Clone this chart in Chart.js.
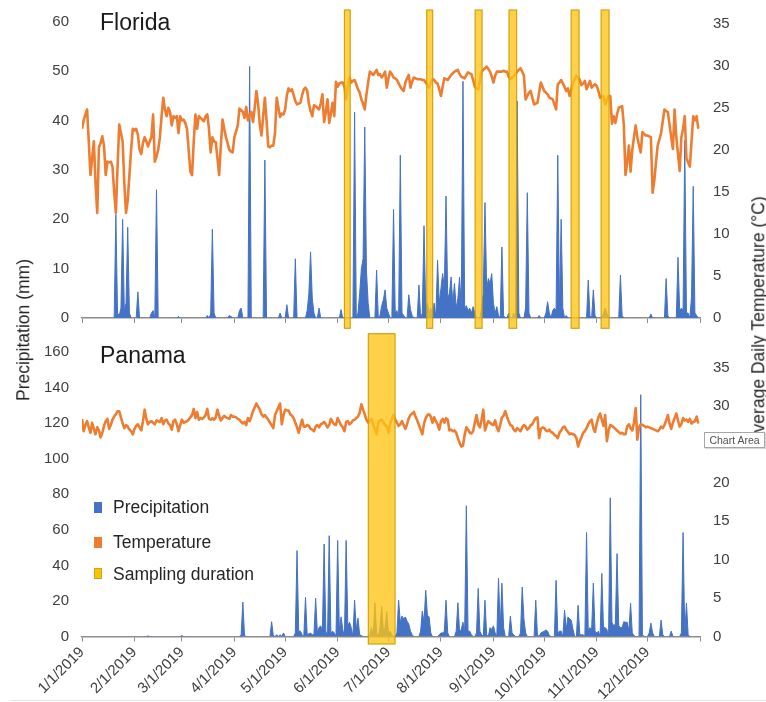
<!DOCTYPE html>
<html><head><meta charset="utf-8">
<script src="https://cdn.jsdelivr.net/npm/chart.js@4"></script>
<style>
html,body{margin:0;padding:0;background:#fff;width:766px;height:702px;overflow:hidden;font-family:"Liberation Sans",Arial,sans-serif;}
#wrap{position:relative;width:766px;height:702px;}
canvas{position:absolute;left:0;}
#c1{top:0;width:766px;height:340px;}
#c2{top:330px;width:766px;height:372px;}
.title{position:absolute;font-size:23px;line-height:1;color:#1a1a1a;white-space:nowrap;}
.leg{position:absolute;font-size:17.5px;line-height:1;color:#262626;white-space:nowrap;left:113px;}
.sw{position:absolute;left:94px;width:8px;height:11px;}
.axt{position:absolute;font-size:17.5px;line-height:1;color:#262626;white-space:nowrap;transform:translate(-50%,-50%) rotate(-90deg);}
#ca{position:absolute;left:704px;top:432px;width:59px;height:14px;border:1px solid #a6a6a6;background:#fff;font-size:10.5px;line-height:14px;color:#505050;text-align:center;box-shadow:1px 1px 1px rgba(0,0,0,0.15);}
#bl{position:absolute;left:10px;top:700px;width:756px;height:1px;background:#e4e4e4;}
</style></head>
<body><div id="wrap">
<canvas id="c1" width="766" height="340"></canvas>
<canvas id="c2" width="766" height="372"></canvas>
<div class="title" style="left:100px;top:10.5px;">Florida</div>
<div class="title" style="left:100px;top:344px;">Panama</div>
<div class="sw" style="top:502px;background:#4472C4;"></div>
<div class="sw" style="top:537px;background:#ED7D31;"></div>
<div class="sw" style="top:568px;height:11px;background:#FFC000;box-sizing:border-box;border:1px solid #C9A227;"></div>
<div class="leg" style="top:499px;">Precipitation</div>
<div class="leg" style="top:533.5px;">Temperature</div>
<div class="leg" style="top:566px;">Sampling duration</div>
<div class="axt" style="left:24px;top:330px;">Precipitation (mm)</div>
<div class="axt" style="left:759px;top:320px;">Average Daily Temperature (°C)</div>
<div id="ca">Chart Area</div>
<div id="bl"></div>
</div>
<script>
// ---- x axis (days of 2019, 0 = Jan 1) ----
const monthStarts = [0,31,59,90,120,151,181,212,243,273,304,334,365];
const monthLabels = ['1/1/2019','2/1/2019','3/1/2019','4/1/2019','5/1/2019','6/1/2019','7/1/2019','8/1/2019','9/1/2019','10/1/2019','11/1/2019','12/1/2019',''];

// ---- Florida daily average temperature (°C), Jan 1 .. Dec 31 ----
const flTemp = [
22.5,23.5,24.2,24.8,21,17,19,21,16,12.5,
20.3,20.8,21.6,20.5,17,18.6,18.5,18.6,18,15,
12.5,18,23,22,21,16,12.5,14,17,20,
22.5,22.3,22.5,21.8,20,19.5,20.8,21.5,21,20.4,
21,21.5,24.2,18.6,19.2,20,21.5,24,26.2,24.8,
24,25,24.5,22.9,24,23.8,24,22,24,23.5,
23.6,23.2,22.5,20,17.4,17,21,24.2,22.5,24,
23.8,23.6,23.4,24,24.2,22.5,19.7,21.5,21,20.9,
19,17,20.5,23.6,22.5,21.5,20.8,20,19.8,19.7,
21.5,22.2,22.9,24.9,24.7,24.5,23.8,25.1,23.5,24.2,
24.5,23.3,25,27,25.5,23,21.7,24,26.2,23.5,
20.4,20.3,20.5,20.5,22,26.2,25,23.9,24.3,24.2,
24.8,26.5,27.3,27,27.2,26.5,25.8,25.4,25.5,25.6,
26.5,27.2,27.4,27,25.5,24.6,24,25.3,25.2,25,
24.8,25.5,26.6,23.3,24.5,26,23.2,24.3,25.6,24,
28.1,27.5,27.9,28,28,27.5,26,27.5,28.6,28,
28.2,28.3,27.8,27.2,26.8,26,25.5,24.8,26.6,28,
29.3,29.1,28.9,29.2,29.5,28.9,29,28.6,28.9,29.3,
27.4,28.5,29.3,29,28.6,28.5,28.3,27.9,27.5,27.2,
27,28,28.5,28.9,27.4,28.1,28.6,28.5,28.4,28.4,
28.4,28.3,28.3,28,27.7,27.4,28,28.4,28.3,28,
27.9,27.2,26.4,27.5,28.5,28.4,28.3,28.6,28.9,29.1,
29.3,29.4,29.5,29,28.7,28.6,28.5,28.9,29.2,29.1,
29,28.3,27.5,27.3,27.2,28.2,29.3,29.5,29.7,29.9,
29.6,29.3,28.7,28,28.8,29.3,29.3,29.3,29.3,29.4,
29.3,29.3,28.7,28.4,28.6,28.8,29,29.3,29.5,29.7,
29.3,28.8,26,26.4,26.8,27,26.2,25.4,25.5,25.6,
26.8,28,27.5,27,26.8,26.6,26.2,26.1,26,25.4,
24.8,27.8,28,28.3,27.9,27.5,27,27.3,26.4,27.2,
28,28.4,28.8,28.6,28.3,27.7,27.9,28.2,27.2,27.7,
28.2,27.4,27.6,27.8,27.6,27,26.2,26.3,26.4,25.4,
25.9,26.4,26.4,23.1,24,23.2,24.2,25,25.1,25.2,
23,17,18.5,20.5,17.4,20,21.5,22.9,21.5,20.5,
19.7,22.1,21.9,21.7,21.7,21.6,21.5,14.9,16.3,18.5,
20.5,21.2,22,23.4,24.8,24.6,24.5,23,21.5,20.1,
24.8,21.5,19.5,17.5,21.5,22.5,24,19,18.5,18,
21,24,23.5,24,22.5
];

// ---- Florida precipitation (mm): [day, mm]; days not listed were dry (0 mm) ----
const flRain = [
[20,21],[21,1],[22,0.5],[23,2],[24,20],[25,1.5],[26,3],[27,18.4],[28,1],[33,5.3],
[41,1],[42,1.5],[44,26],[57,0.3],[74,0.5],[76,0.8],[77,18],[78,1],[87,0.5],[88,0.3],
[93,1.5],[94,2],[99,51],[108,32],[117,1],[121,2.7],[126,12],[133,1.5],[134,5],[135,13.4],
[136,4],[137,1],[140,2],[153,1.7],[161,41.7],[163,1],[164,5],[165,10],[166,12],[167,38.7],
[168,9.7],[169,3],[174,9.7],[176,0.5],[177,2.5],[178,3.7],[179,5.7],[180,2],[181,1],[184,22],
[185,1],[186,1.5],[188,33],[189,1],[190,0.5],[193,4.7],[194,1.7],[195,0.5],[199,6.7],[201,1],
[202,18.7],[203,2],[204,3],[205,1],[206,2],[207,1],[208,3],[210,11.7],[211,3],[212,6],
[213,9],[214,6],[215,24.7],[216,4],[217,5],[218,8.3],[219,3],[220,7],[221,2],[222,4],
[223,8.3],[224,2],[225,48],[226,2],[227,2.5],[228,1.5],[229,2],[230,1],[231,2.3],[232,1],
[236,2],[237,5],[238,23.4],[239,6],[240,8],[241,7],[242,9],[243,3],[244,1],[245,2.3],
[246,0.5],[248,14.4],[249,0.5],[252,1],[255,1],[257,44],[258,1],[262,2],[263,25.4],[264,1],
[270,0.5],[274,1],[275,3.3],[276,1],[278,1.5],[279,2],[280,1.5],[281,33],[282,2],[283,20],
[284,2],[286,0.5],[299,7.7],[300,0.5],[302,5.7],[303,0.5],[308,1],[309,2],[310,1],[318,8.7],
[319,0.5],[336,0.8],[345,8],[346,0.5],[352,12.3],[353,1.5],[354,2],[355,1.5],[356,36],[357,1],
[358,1],[360,4.4],[361,26.7],[362,1],[363,0.5]
];

// ---- Florida sampling windows [start day, end day] ----
const flSampling = [[155,158.4],[203.6,207.1],[232.2,236.3],[252.2,256.7],[288.9,293.6],[306.6,311.3]];

// ---- Panama daily average temperature (°C) ----
const paTemp = [
28.3,26.7,27.5,28,27.2,26.5,27.8,27,26.3,27.2,
26.8,25.9,26.5,27.4,28,28.3,27,27.5,28.2,28.6,
28.9,29.3,29.3,28.5,27.7,27.1,27.5,27.3,26.9,26.7,
26.3,27,27.4,27.6,27.2,26.8,28,29.5,28.3,27.6,
27.9,28,27.8,27.6,28.1,28,27.9,28.4,27.6,28.1,
28.2,27.7,27.5,26.9,28,28.2,27.6,26.7,27.5,28.2,
27.8,27.9,28,28.2,28.5,28.8,29.6,28.4,29.2,28.2,
28.4,28.3,28.5,28.8,29.6,28.3,28.2,28.4,28.2,28.5,
29.5,28.7,28.1,28.4,28.7,28.5,28.4,28.3,28.8,28.6,
28.6,28.5,28.3,28.2,27.9,27.7,27.9,27.5,28.4,28,
28.6,29.3,29.8,30.3,29.9,29.5,28.9,28.6,28.8,28.5,
28.2,27.8,27.5,27.1,28.8,29.3,29.8,30.3,27.6,28.8,
29.5,29.4,29.4,28.9,28.7,28.4,27.8,27.2,26.5,27.4,
28.2,27.3,27.3,27.5,27.4,27,26.9,26.7,27.3,27.5,
27.2,27.6,27.7,27.9,27.6,27.2,27.5,28.3,27.9,27.6,
27.5,28.4,27.9,27.5,27.2,26.7,27.9,28,27.6,27.8,
28.1,28.2,28.4,28.6,29.1,30.2,29.5,28.9,28.2,27.8,
28.1,28.3,27.5,27,26.3,27.9,28.1,28.2,27.8,27.5,
27.3,26.5,27.7,28.3,28.8,28.2,27.8,27.4,27.6,28,
27.5,27,27.6,28.4,28.8,29,29.2,28.6,28.1,27.5,
26.9,26.3,27.7,28.4,28.8,28.9,28.6,27.8,28.5,28,
27.6,26.9,28,28.3,27.8,28.4,28.2,26.8,26.9,26.7,
26.8,26.5,25.8,25.2,24.7,24.8,26.2,27.2,26.9,26.5,
26.4,26.7,27.8,28.8,27.6,27.2,28.2,29.5,26.8,27.5,
28,27.8,27.6,27.5,28.1,27.2,26.7,27.5,28.5,28.7,
29.3,28.6,28,27.5,27.4,26.9,26.7,27.1,26.9,26.7,
27.2,27.5,27.3,26.9,27.1,27.5,27.6,28.1,28.4,28.5,
25.8,27,27.2,27.1,26.8,26.7,26.9,26.6,26.5,26.2,
26.1,25.8,26.5,26.8,27.2,27.3,26.9,26.6,26.3,26.4,
26.3,26.2,25.8,24.7,25.4,25.9,26.5,26.7,27.1,27.6,
28,28.2,27.1,26.6,27.7,28.5,29,28.2,27.4,28.8,
25.4,26.8,27.5,27.4,27.2,27,26.8,26.6,26.4,26.5,
26.3,26.3,27.3,27.6,27.1,26.8,27.8,29.7,25.6,27.2,
27.6,27.5,27.4,27.2,27.3,27.2,27.1,27,26.9,26.8,
26.7,26.9,27.3,27.1,27.5,28.1,28.8,27.7,27,27.8,
28.4,29,28.1,27.3,27.6,28.4,28.1,28.2,27.9,28.3,
27.7,27.9,28,28.6,27.7
];

// ---- Panama precipitation (mm): [day, mm]; days not listed were dry ----
const paRain = [
[39,0.3],[59,0.5],[94,1],[95,19.4],[96,0.5],[112,8.3],[113,0.5],[115,1],[117,1],[119,2],
[126,2],[127,48.3],[128,3],[129,3],[130,1],[132,22],[133,1],[134,1.5],[135,2],[136,1],
[137,1],[138,21.5],[139,2],[140,5],[141,6],[142,3],[143,52],[144,3],[146,56.7],[147,2],
[148,3],[149,2],[151,54],[152,3],[153,11],[154,4],[156,54],[157,6],[158,8],[159,5],
[161,20.4],[162,4],[163,10.3],[164,1],[165,0.5],[170,1],[171,5],[173,19],[174,2],[176,5],
[177,17],[178,3],[179,5],[180,14],[181,2],[182,3],[183,1],[186,2],[187,20.4],[188,8],
[189,11.5],[190,10],[191,11],[192,8.6],[193,7],[194,3],[195,1],[200,3],[201,14.3],[202,8],
[203,26],[204,12],[205,11],[206,2],[211,1],[212,2],[213,2],[214,3],[215,20.4],[216,2],
[221,3],[222,19],[223,3],[224,4],[225,8],[226,3],[227,73.5],[228,3],[229,3],[230,1],
[233,2],[234,27],[235,3],[236,1],[238,20.4],[239,1],[241,5],[242,4],[243,6],[244,2],
[246,32.7],[247,5],[248,30],[249,5],[253,11.5],[254,2],[255,1],[259,2],[260,27.8],[261,10],
[262,2],[268,20.4],[269,1],[271,2],[272,2.5],[273,3],[274,3.7],[275,3],[276,0.5],[280,31.6],
[281,2],[282,3],[283,3],[285,14.8],[286,4],[287,11],[288,10],[289,9],[290,4],[293,17.6],
[294,1],[295,1],[296,1],[298,58.5],[299,3],[300,5],[301,4],[302,30],[303,3],[304,2],
[305,3],[307,35.5],[308,5],[309,5],[310,4],[312,78],[313,8],[314,6],[315,7],[316,46.6],
[317,6],[318,5],[319,5],[320,8.3],[321,8],[322,8],[323,3],[324,18.7],[325,2],[326,0.5],
[330,136],[331,1],[335,2],[336,7.5],[337,2],[342,9.2],[343,1],[348,3],[354,2],[355,58.5],
[356,2],[357,18.7],[358,1]
];

// ---- Panama sampling window ----
const paSampling = [[169.1,184.9]];

// ---- helpers ----
function dailyRain(pairs){
  const arr = new Array(365).fill(0);
  pairs.forEach(([d,v]) => { arr[d] = v; });
  return arr.map((v,i)=>({x:i,y:v}));
}
function tempPts(arr){ return arr.map((v,i)=>({x:i,y:v})); }

const samplingPlugin = {
  id:'sampling',
  afterDatasetsDraw(chart, args, opts){
    const {ctx, chartArea} = chart;
    const xs = chart.scales.x;
    ctx.save();
    opts.windows.forEach(([s,e]) => {
      const x0 = xs.getPixelForValue(s), x1 = xs.getPixelForValue(e);
      const y0 = chartArea.top - opts.above, y1 = chartArea.bottom + opts.below;
      ctx.fillStyle = 'rgba(255,196,20,0.78)';
      ctx.fillRect(x0, y0, x1-x0, y1-y0);
      ctx.strokeStyle = 'rgba(205,155,0,0.9)';
      ctx.lineWidth = 1.2;
      ctx.strokeRect(x0, y0, x1-x0, y1-y0);
    });
    ctx.restore();
  }
};

const tickFont = {family:'"Liberation Sans", Arial, sans-serif', size:15};
const tickColor = '#404040';
const BLUE = '#4472C4';

function build(canvasId, temp, rain, windows, cfg){
  return new Chart(document.getElementById(canvasId), {
    type:'line',
    data:{datasets:[
      {label:'Temperature', data:tempPts(temp), yAxisID:'yT', borderColor:'#ED7D31', borderWidth:2.6,
       borderJoinStyle:'round', pointRadius:0, tension:0, fill:false, order:0},
      {label:'Precipitation', data:dailyRain(rain), yAxisID:'yP', backgroundColor:BLUE,
       borderColor:BLUE, borderWidth:1, pointRadius:0, tension:0, fill:'origin', order:1,
       segment:{borderColor:c => (c.p0.parsed.y === 0 && c.p1.parsed.y === 0) ? 'rgba(0,0,0,0)' : BLUE}}
    ]},
    options:{
      responsive:false, animation:false, events:[],
      layout:{padding:{top:cfg.top, left:0, right:0, bottom:0}},
      plugins:{legend:{display:false}, tooltip:{enabled:false},
        sampling:{windows:windows, above:cfg.above, below:cfg.below}},
      scales:{
        x:{type:'linear', min:0, max:365, position:'bottom',
          afterBuildTicks:s=>{ s.ticks = monthStarts.map(v=>({value:v})); },
          afterFit:s=>{ s.height = cfg.xh; },
          grid:{display:true, drawOnChartArea:false, drawTicks:true, tickLength:5, color:'#8c8c8c', lineWidth:1},
          border:{display:true, color:'#8c8c8c', width:1.5},
          ticks:{display:cfg.labels, autoSkip:false, maxRotation:45, minRotation:45, padding:2,
            font:tickFont, color:tickColor, callback:(v,i)=>monthLabels[i]}
        },
        yP:{type:'linear', position:'left', min:0, max:cfg.pMax,
          ticks:{stepSize:cfg.pStep, font:tickFont, color:tickColor, padding:13},
          grid:{display:false, drawTicks:false}, border:{display:false},
          afterFit:s=>{ s.width = 82; }},
        yT:{type:'linear', position:'right', min:0, max:cfg.tMax,
          ticks:{stepSize:5, includeBounds:false, font:tickFont, color:tickColor, padding:13},
          grid:{display:false, drawTicks:false}, border:{display:false},
          afterFit:s=>{ s.width = 66; }}
      }
    },
    plugins:[samplingPlugin]
  });
}

build('c1', flTemp, flRain, flSampling, {top:22, xh:18.3, pMax:60, pStep:10, tMax:35.2, labels:false, above:12, below:10.3});
build('c2', paTemp, paRain, paSampling, {top:20, xh:65.5, pMax:160, pStep:20, tMax:37, labels:true, above:18.3, below:7.5});
</script>
</body></html>
